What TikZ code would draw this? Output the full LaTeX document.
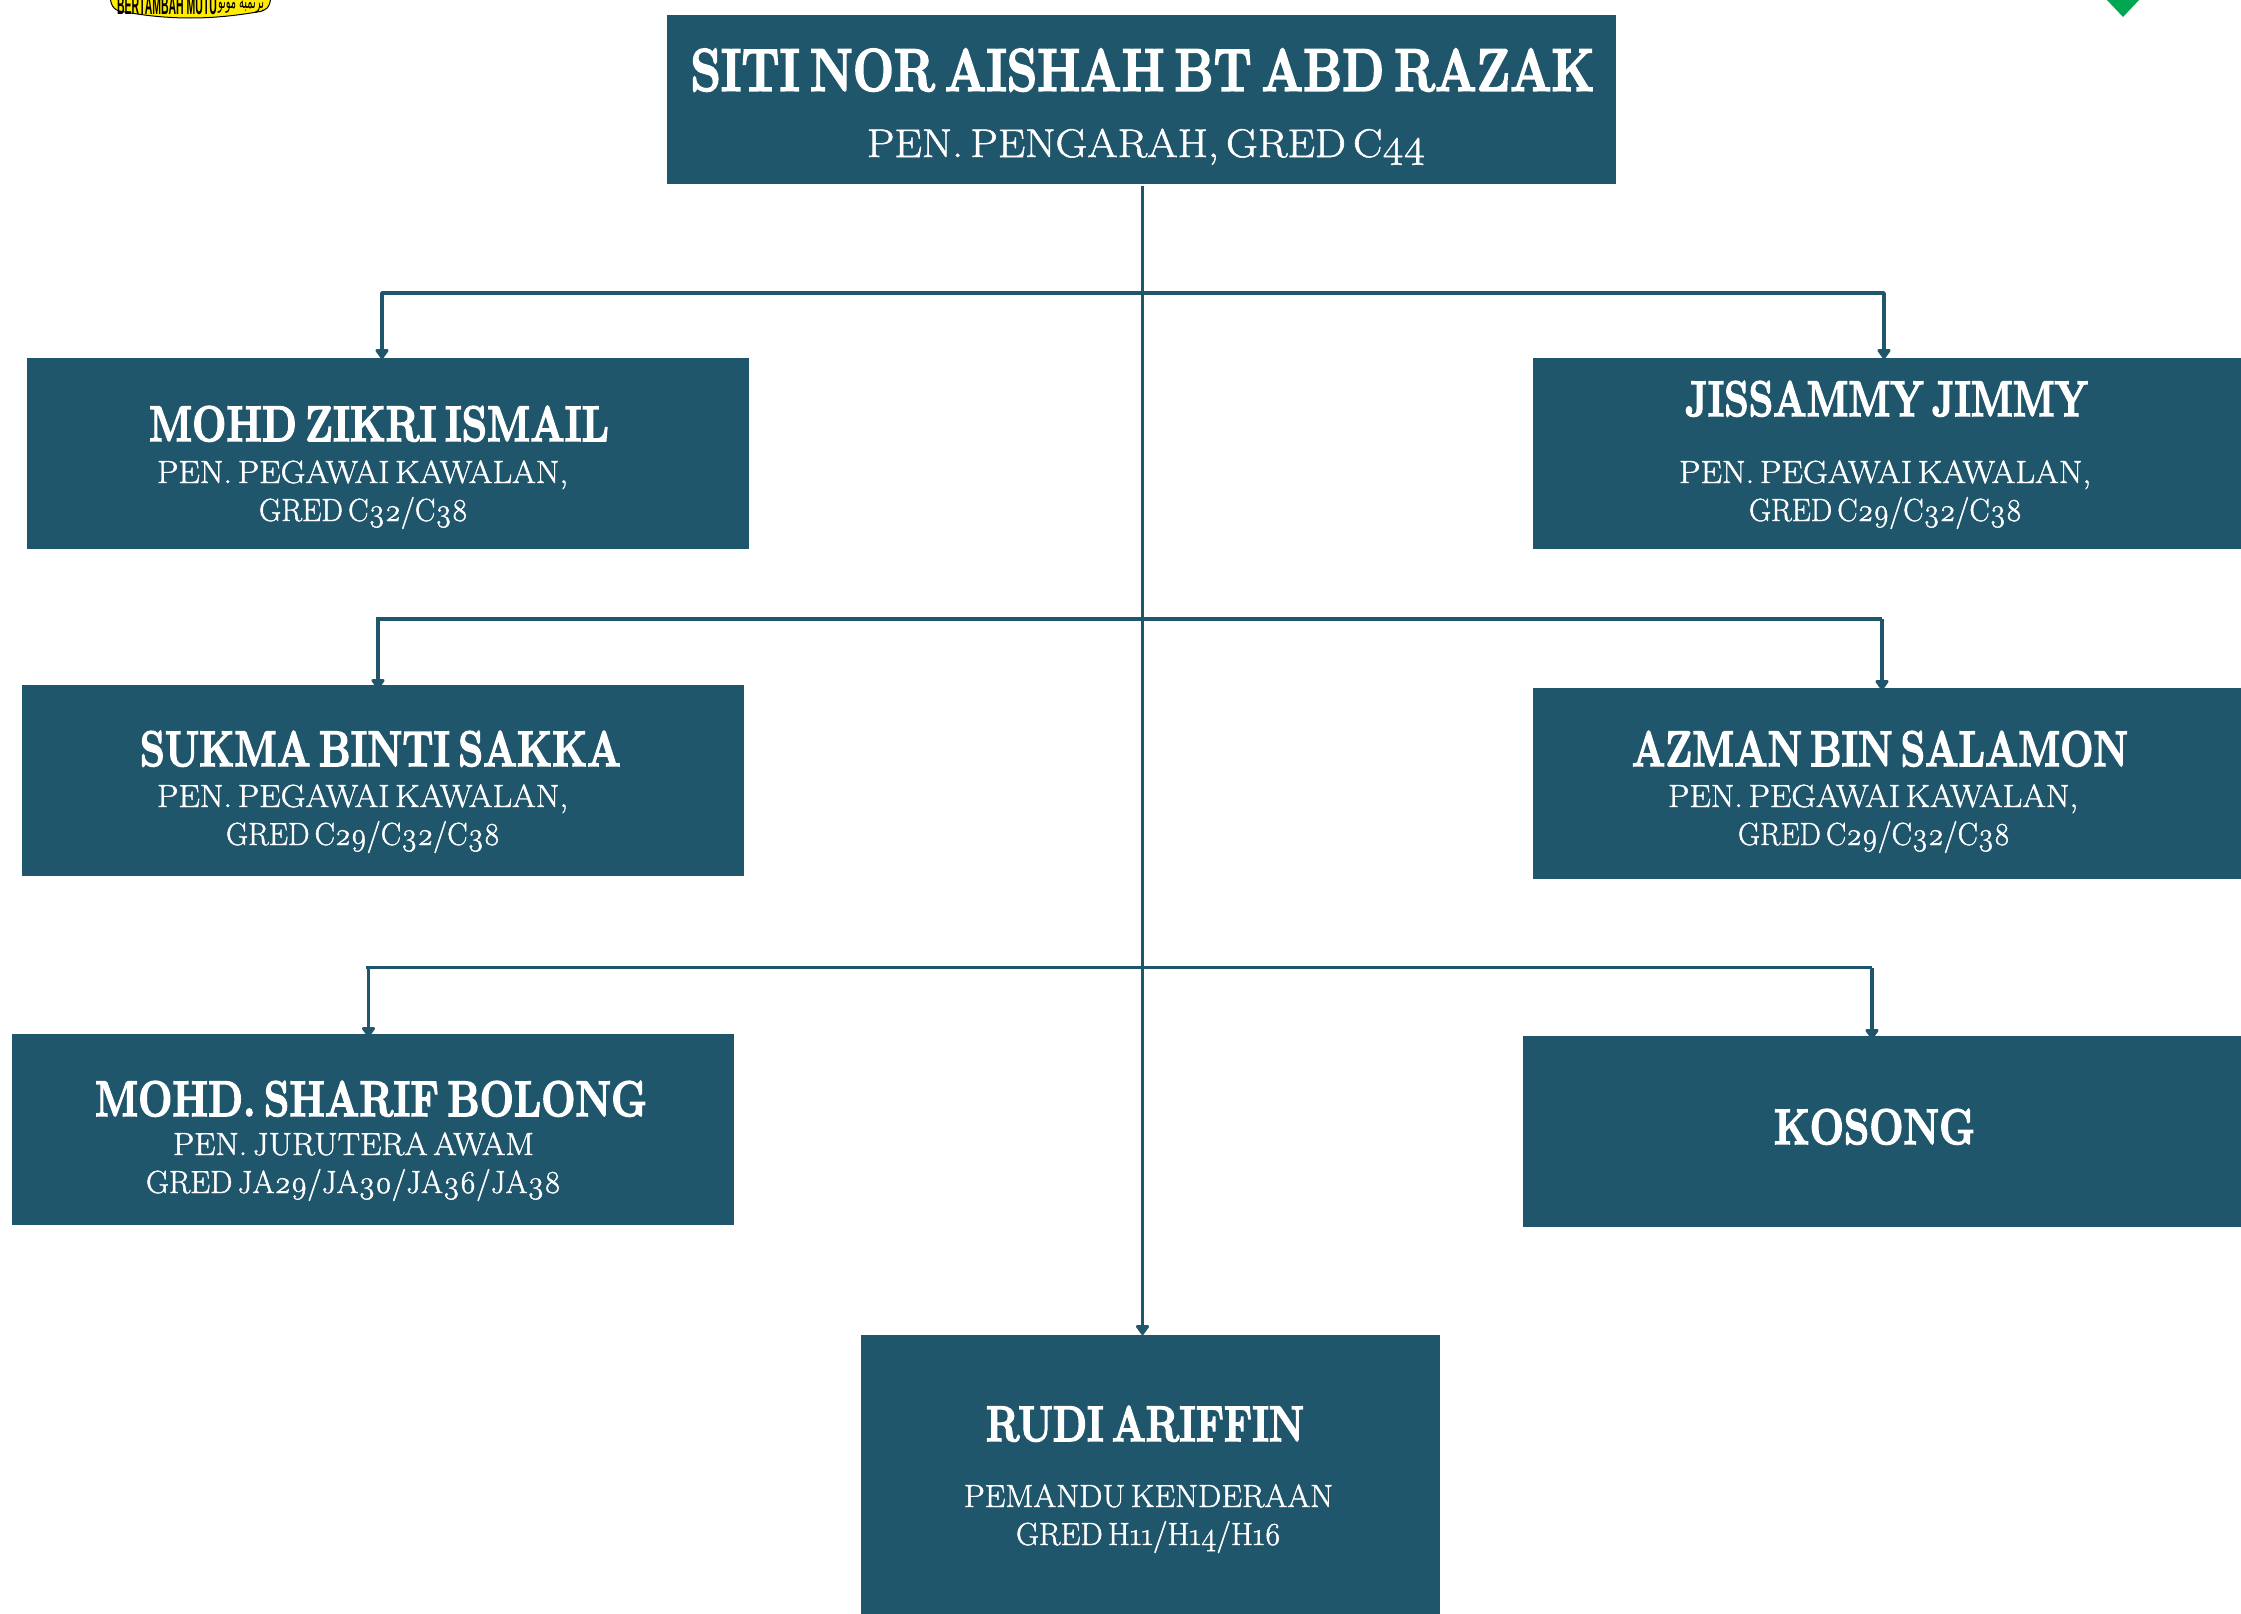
\documentclass[tikz,border=0pt]{standalone}
\usepackage{fontspec}
\usepackage{graphicx}
\usetikzlibrary{arrows.meta}
\TeXXeTstate=1
\newfontfamily\ttlfont[FakeBold=3,WordSpace=0.55]{Latin Modern Roman}
\newfontfamily\subfont[Numbers=OldStyle,FakeBold=1.3,WordSpace=0.55]{Latin Modern Roman}
\newfontfamily\logofont{Liberation Sans}
\newfontfamily\arabicfont[Script=Arabic]{DejaVu Sans}
\definecolor{teal}{HTML}{20566C}
\definecolor{logoyellow}{HTML}{FFEC00}
\definecolor{logogreen}{HTML}{00A651}
\tikzset{
  box/.style={fill=teal,draw=none,inner sep=0pt,outer sep=0pt},
  lbl/.style={text=white,inner sep=0pt,outer sep=0pt,anchor=base},
  conn/.style={draw=teal,line width=3.6pt,line cap=butt,line join=round},
  arrowconn/.style={conn,-{Triangle[length=11pt,width=15pt,round]}}
}
\newcommand{\boxat}[5]{% name x1 y1 x2 y2
  \node[box,minimum width=#4pt-#2pt,minimum height=#5pt-#3pt] (#1) at ({(#2+#4)/2},{(#3+#5)/2}) {};}
\newcommand{\ttxt}[6]{% name size x1 x2 baseline text
  \node[lbl] (#1) at ({(#3+#4)/2},#5) {\resizebox{\dimexpr#4pt-#3pt\relax}{\height}{\fontsize{#2}{#2}\ttlfont\bfseries #6}};}
\newcommand{\stxt}[6]{%
  \node[lbl] (#1) at ({(#3+#4)/2},#5) {\resizebox{\dimexpr#4pt-#3pt\relax}{\height}{\fontsize{#2}{#2}\subfont #6}};}
\begin{document}
\begin{tikzpicture}[x=1pt,y=-1pt]
\useasboundingbox (0,0) rectangle (2241,1614);
\clip (0,0) rectangle (2241,1614);
\fill[white] (0,0) rectangle (2241,1614);
% cropped logos
\draw[fill=logoyellow,draw=black,line width=1pt] (110,-4) .. controls (111,8) and (115,11) .. (125,12) .. controls (170,20) and (210,20) .. (257,12) .. controls (266,11) and (270,8) .. (271,-4) -- cycle;
\node[anchor=base,inner sep=0pt] (logotext) at (167,14) {\resizebox{100pt}{\height}{\logofont\bfseries\fontsize{26}{26}\selectfont BERTAMBAH MUTU}};
\node[anchor=base,inner sep=0pt] (logojawi) at (241,9) {\resizebox{46pt}{\height}{\arabicfont\fontsize{20}{20}\selectfont\beginR برتمبه موتو\endR}};
\fill[logogreen] (2106,-1) -- (2123,17) -- (2140,-1) -- cycle;
% boxes
\boxat{top}{667}{15}{1616}{184}
\boxat{zikri}{27}{358}{749}{549}
\boxat{jimmy}{1533}{358}{2241}{549}
\boxat{sukma}{22}{685}{744}{876}
\boxat{azman}{1533}{688}{2241}{879}
\boxat{sharif}{12}{1034}{734}{1225}
\boxat{kosong}{1523}{1036}{2241}{1227}
\boxat{rudi}{861}{1335}{1440}{1620}
% connector points
\coordinate (trunkstart) at (1142.5,186);
\coordinate (j1) at (1142.5,293);
\coordinate (a1l) at (382,359);
\coordinate (a1r) at (1884,359);
\coordinate (h2l) at (376,619);
\coordinate (h2r) at (1882,619);
\coordinate (d2l) at (378,619);
\coordinate (a2l) at (378,689);
\coordinate (a2r) at (1882,690);
\coordinate (h3l) at (366,967.5);
\coordinate (h3r) at (1872,967.5);
\coordinate (d3l) at (368.5,967.5);
\coordinate (a3l) at (368.5,1037);
\coordinate (a3r) at (1872,1039);
\coordinate (trunkend) at (1142.5,1335);
% connectors
\draw[arrowconn] (trunkstart) -- (trunkend);
\draw[arrowconn] (j1) -| (a1l);
\draw[arrowconn] (j1) -| (a1r);
\draw[conn] (h2l) -- (h2r);
\draw[arrowconn] (d2l) -- (a2l);
\draw[arrowconn] (h2r) -- (a2r);
\draw[conn] (h3l) -- (h3r);
\draw[arrowconn] (d3l) -- (a3l);
\draw[arrowconn] (h3r) -- (a3r);
% texts
\ttxt{t0}{60}{690.5}{1594.5}{90.7}{SITI NOR AISHAH BT ABD RAZAK}
\stxt{s0}{40}{867}{1425}{157}{PEN. PENGARAH, GRED C44}
\ttxt{t1}{50}{149}{609}{441}{MOHD ZIKRI ISMAIL}
\stxt{s1a}{32}{157}{568}{483}{PEN. PEGAWAI KAWALAN,}
\stxt{s1b}{32}{259}{468}{521}{GRED C32/C38}
\ttxt{t2}{50}{1685}{2088}{416}{JISSAMMY JIMMY}
\stxt{s2a}{32}{1679}{2091}{483}{PEN. PEGAWAI KAWALAN,}
\stxt{s2b}{32}{1749}{2022}{521}{GRED C29/C32/C38}
\ttxt{t3}{50}{140}{621}{766}{SUKMA BINTI SAKKA}
\stxt{s3a}{32}{157}{568}{807}{PEN. PEGAWAI KAWALAN,}
\stxt{s3b}{32}{226}{500}{845}{GRED C29/C32/C38}
\ttxt{t4}{50}{1632}{2128}{766}{AZMAN BIN SALAMON}
\stxt{s4a}{32}{1668}{2078}{807}{PEN. PEGAWAI KAWALAN,}
\stxt{s4b}{32}{1738}{2010}{845}{GRED C29/C32/C38}
\ttxt{t5}{50}{95}{647}{1116}{MOHD. SHARIF BOLONG}
\stxt{s5a}{32}{173}{534}{1155}{PEN. JURUTERA AWAM}
\stxt{s5b}{32}{146}{561}{1193}{GRED JA29/JA30/JA36/JA38}
\ttxt{t6}{50}{1774}{1975}{1144}{KOSONG}
\ttxt{t7}{50}{986}{1304}{1441}{RUDI ARIFFIN}
\stxt{s7a}{32}{964}{1333}{1507}{PEMANDU KENDERAAN}
\stxt{s7b}{32}{1016}{1281}{1545}{GRED H11/H14/H16}
\end{tikzpicture}
\end{document}
